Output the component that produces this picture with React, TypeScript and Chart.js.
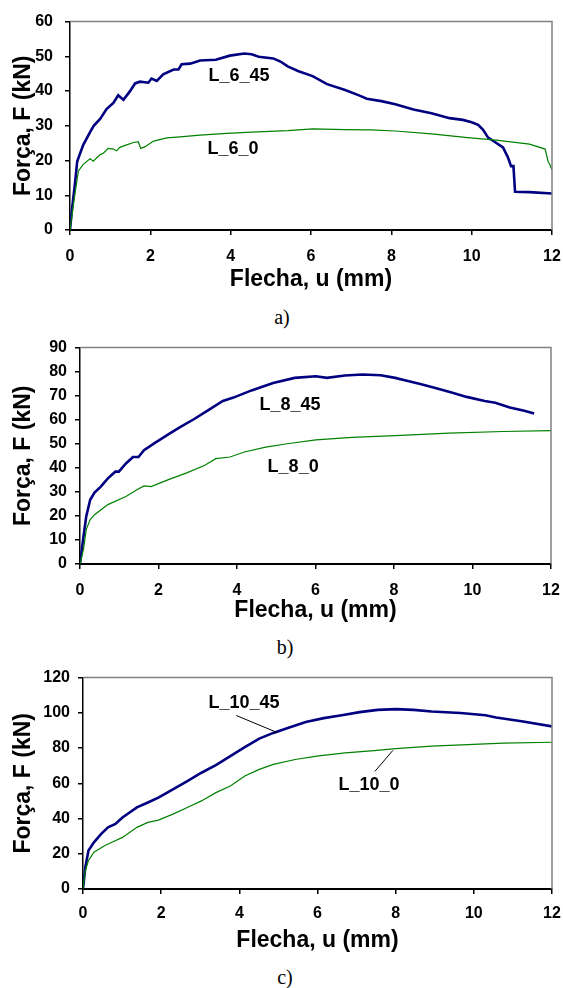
import React, { useEffect, useRef } from 'react';
import { Chart, registerables } from 'chart.js';
Chart.register(...registerables);

const FONT = '"Liberation Sans", Arial, Helvetica, sans-serif';
const BLUE = '#000080';
const GREEN = '#008000';

// ---------- Panel a) ----------
const a45U = [0, 0.05, 0.12, 0.18, 0.33, 0.5, 0.59, 0.75, 0.91, 1.08, 1.2, 1.25, 1.33, 1.49, 1.62, 1.74, 1.95, 2.03, 2.16, 2.32, 2.58, 2.7, 2.78, 2.99, 3.24, 3.63, 3.98, 4.34, 4.52, 4.7, 5.06, 5.24, 5.42, 5.69, 6.04, 6.4, 6.85, 7.21, 7.39, 7.75, 8.1, 8.55, 9.0, 9.45, 9.78, 10.0, 10.16, 10.28, 10.41, 10.53, 10.78, 10.9, 10.98, 11.04, 11.08, 11.44, 12.0];
const a45F = [0, 6, 13, 19.8, 24.5, 28.2, 30, 32, 34.8, 36.6, 38.8, 38.3, 37.5, 39.9, 42.2, 42.7, 42.4, 43.6, 42.9, 44.8, 46.2, 46.2, 47.7, 47.9, 48.8, 49.0, 50.2, 50.8, 50.6, 49.9, 49.4, 48.5, 47.1, 45.7, 44.3, 42.0, 40.3, 38.7, 37.8, 37.1, 36.2, 34.7, 33.6, 32.2, 31.7, 31.0, 30.3, 28.9, 26.6, 25.7, 23.8, 21.0, 18.4, 18.4, 11.0, 10.9, 10.5];
const a0U = [0, 0.1, 0.21, 0.33, 0.5, 0.58, 0.75, 0.83, 0.95, 1.08, 1.16, 1.24, 1.41, 1.58, 1.7, 1.76, 1.87, 2.08, 2.41, 2.74, 3.24, 3.9, 4.52, 5.42, 6.04, 6.85, 7.5, 8.1, 9.0, 9.9, 10.61, 11.44, 11.83, 11.9, 11.96, 12.0];
const a0F = [0, 8.6, 17, 18.9, 20.5, 19.8, 21.7, 22.1, 23.5, 23.3, 22.8, 23.8, 24.5, 25.2, 25.4, 23.5, 24.0, 25.6, 26.5, 26.8, 27.3, 27.8, 28.2, 28.6, 29.1, 28.9, 28.8, 28.5, 27.7, 26.6, 25.9, 24.7, 23.3, 19.8, 18.5, 17.3];

// ---------- Panel b) ----------
const b45U = [0, 0.09, 0.16, 0.26, 0.37, 0.53, 0.71, 0.9, 0.99, 1.17, 1.35, 1.49, 1.63, 1.9, 2.27, 2.54, 2.91, 3.27, 3.64, 3.91, 4.37, 4.92, 5.47, 6.01, 6.29, 6.75, 7.2, 7.66, 8.03, 8.3, 8.67, 9.03, 9.49, 9.85, 10.31, 10.58, 10.95, 11.32, 11.57];
const b45F = [0, 11.6, 19.9, 26.7, 29.7, 32.2, 35.6, 38.4, 38.4, 41.8, 44.5, 44.5, 47.3, 50.3, 54.1, 56.8, 60.3, 64.0, 67.8, 69.2, 72.2, 75.3, 77.4, 78.1, 77.4, 78.4, 78.8, 78.5, 77.4, 76.3, 74.9, 73.3, 71.2, 69.5, 67.8, 67.1, 65.1, 63.7, 62.6];
const b0U = [0, 0.09, 0.16, 0.26, 0.37, 0.71, 1.17, 1.44, 1.63, 1.81, 2.27, 2.72, 3.18, 3.46, 3.82, 4.19, 4.73, 5.28, 6.01, 6.93, 8.03, 9.4, 10.77, 12.0];
const b0F = [0, 6.2, 14.4, 18.5, 20.5, 24.7, 28.1, 30.8, 32.5, 32.2, 35.2, 37.9, 41.1, 43.8, 44.5, 46.6, 48.6, 50.0, 51.6, 52.7, 53.4, 54.4, 55.1, 55.5];

// ---------- Panel c) ----------
const c45U = [0, 0.06, 0.14, 0.28, 0.46, 0.64, 0.83, 1.01, 1.38, 1.66, 1.93, 2.3, 2.67, 3.03, 3.4, 3.77, 4.14, 4.51, 4.87, 5.24, 5.7, 6.16, 6.62, 7.08, 7.54, 8.0, 8.46, 8.92, 9.66, 10.3, 10.57, 11.22, 12.0];
const c45F = [0, 12.4, 21.8, 26.5, 31.2, 35.0, 36.9, 40.6, 46.3, 49.1, 51.9, 56.6, 61.3, 66.0, 70.3, 75.4, 80.5, 85.4, 88.6, 91.4, 94.8, 97.0, 98.6, 100.4, 101.7, 102.1, 101.7, 100.8, 99.9, 98.6, 97.4, 95.2, 92.3];
const c0U = [0, 0.06, 0.14, 0.28, 0.55, 0.74, 1.01, 1.38, 1.66, 1.93, 2.3, 2.67, 3.03, 3.4, 3.77, 4.14, 4.51, 4.87, 5.43, 5.98, 6.71, 7.45, 8.0, 8.92, 9.84, 10.76, 12.0];
const c0F = [0, 10.5, 16.2, 20.9, 24.6, 26.5, 29.3, 35.0, 37.8, 39.1, 42.5, 46.3, 50.0, 54.7, 58.5, 64.1, 67.9, 70.7, 73.5, 75.4, 77.3, 78.6, 79.7, 81.1, 82.0, 82.8, 83.3];

// Labels (text, u, F) and leader lines
const aLabels = [
  { text: 'L_6_45', u: 4.21, F: 44.3 },
  { text: 'L_6_0', u: 4.06, F: 23.3 },
];
const bLabels = [
  { text: 'L_8_45', u: 5.35, F: 66 },
  { text: 'L_8_0', u: 5.43, F: 40.5 },
];
const cLabels = [
  { text: 'L_10_45', u: 4.12, F: 105.8 },
  { text: 'L_10_0', u: 7.32, F: 58.9 },
];
const cLeaders = [
  [3.92, 98.5, 4.96, 88.9],
  [7.47, 66.8, 7.93, 78.7],
];

const X_TITLE = 'Flecha, u (mm)';
const Y_TITLE = 'Força, F (kN)';

const pts = (u: number[], f: number[]) => u.map((x, i) => ({ x, y: f[i] }));

const framePlugin = {
  id: 'frame',
  afterDatasetsDraw(chart: any, _a: any, opts: any) {
    const { ctx, chartArea } = chart;
    const { left, right, top, bottom } = chartArea;
    ctx.save();
    ctx.strokeStyle = '#808080';
    ctx.lineWidth = 1.5;
    ctx.beginPath();
    ctx.moveTo(left, top);
    ctx.lineTo(right, top);
    ctx.lineTo(right, bottom);
    ctx.stroke();
    const xs = chart.scales.x;
    const ys = chart.scales.y;
    ctx.strokeStyle = '#000';
    ctx.lineWidth = 1;
    (opts.leaders || []).forEach((l: number[]) => {
      ctx.beginPath();
      ctx.moveTo(xs.getPixelForValue(l[0]), ys.getPixelForValue(l[1]));
      ctx.lineTo(xs.getPixelForValue(l[2]), ys.getPixelForValue(l[3]));
      ctx.stroke();
    });
    ctx.fillStyle = '#000';
    ctx.font = `bold 18px ${FONT}`;
    ctx.textAlign = 'center';
    ctx.textBaseline = 'middle';
    (opts.labels || []).forEach((l: any) => {
      ctx.fillText(l.text, xs.getPixelForValue(l.u), ys.getPixelForValue(l.F));
    });
    ctx.restore();
  },
};

type PanelProps = {
  top: number;
  height: number;
  d45: { x: number; y: number }[];
  d0: { x: number; y: number }[];
  yMax: number;
  yStep: number;
  padTop: number;
  plotRight: number;
  yWidth: number;
  xHeight: number;
  yTickPad: number;
  xTickPad: number;
  xTitlePad: number;
  labels: any[];
  leaders: number[][];
  caption: string;
  capX: number;
  capY: number;
};

function Panel(p: PanelProps) {
  const ref = useRef<HTMLCanvasElement>(null);
  useEffect(() => {
    if (!ref.current) return;
    const chart = new Chart(ref.current, {
      type: 'line',
      data: {
        datasets: [
          { data: p.d0, borderColor: GREEN, borderWidth: 1.2, pointRadius: 0, tension: 0, fill: false },
          { data: p.d45, borderColor: BLUE, borderWidth: 2.6, pointRadius: 0, tension: 0, fill: false },
        ],
      },
      options: {
        animation: false,
        responsive: false,
        layout: { padding: { top: p.padTop, right: 0, bottom: 0, left: 0 } },
        plugins: {
          legend: { display: false },
          tooltip: { enabled: false },
          frame: { labels: p.labels, leaders: p.leaders },
        } as any,
        scales: {
          x: {
            type: 'linear',
            min: 0,
            max: 12,
            afterFit: (s: any) => {
              s.height = p.xHeight;
              s.paddingRight = 563 - p.plotRight;
              s.paddingLeft = 0;
            },
            ticks: { stepSize: 2, color: '#000', padding: p.xTickPad, font: { family: FONT, size: 16, weight: 'bold' } },
            grid: { drawOnChartArea: false, drawTicks: true, tickLength: 5, color: '#000', lineWidth: 1.5 },
            border: { display: true, color: '#000', width: 2 },
            title: { display: true, text: X_TITLE, color: '#000', padding: { top: 0, bottom: p.xTitlePad }, font: { family: FONT, size: 23, weight: 'bold' } },
          },
          y: {
            type: 'linear',
            min: 0,
            max: p.yMax,
            afterFit: (s: any) => { s.width = p.yWidth; },
            ticks: { stepSize: p.yStep, color: '#000', padding: p.yTickPad, font: { family: FONT, size: 16, weight: 'bold' } },
            grid: { drawOnChartArea: false, drawTicks: true, tickLength: 5, color: '#000', lineWidth: 1.5 },
            border: { display: true, color: '#000', width: 1.5 },
            title: { display: true, text: Y_TITLE, color: '#000', padding: { top: 10, bottom: 0 }, font: { family: FONT, size: 23, weight: 'bold' } },
          },
        },
      } as any,
      plugins: [framePlugin],
    });
    return () => chart.destroy();
  }, []);
  return (
    <>
      <canvas ref={ref} width={563} height={p.height} style={{ position: 'absolute', left: 0, top: p.top, width: 563, height: p.height }} />
      <div style={{ position: 'absolute', left: p.capX - 30, top: p.capY - 12, width: 60, height: 24, lineHeight: '24px', textAlign: 'center', fontFamily: '"Liberation Serif", "Times New Roman", serif', fontSize: 20, color: '#000' }}>{p.caption}</div>
    </>
  );
}

export default function App() {
  return (
    <div style={{ position: 'absolute', left: 0, top: 0, width: 563, height: 988, background: '#fff' }}>
      <Panel top={0} height={300} d45={pts(a45U, a45F)} d0={pts(a0U, a0F)} yMax={60} yStep={10}
        padTop={16} plotRight={552} yWidth={70} xHeight={70} yTickPad={12} xTickPad={12} xTitlePad={7}
        labels={aLabels} leaders={[]} caption="a)" capX={282} capY={317} />
      <Panel top={330} height={300} d45={pts(b45U, b45F)} d0={pts(b0U, b0F)} yMax={90} yStep={10}
        padTop={16} plotRight={551} yWidth={80} xHeight={66} yTickPad={8} xTickPad={12} xTitlePad={6}
        labels={bLabels} leaders={[]} caption="b)" capX={285} capY={647} />
      <Panel top={660} height={300} d45={pts(c45U, c45F)} d0={pts(c0U, c0F)} yMax={120} yStep={20}
        padTop={17} plotRight={552} yWidth={83} xHeight={71} yTickPad={8} xTickPad={10} xTitlePad={6}
        labels={cLabels} leaders={cLeaders} caption="c)" capX={285} capY={977} />
    </div>
  );
}
